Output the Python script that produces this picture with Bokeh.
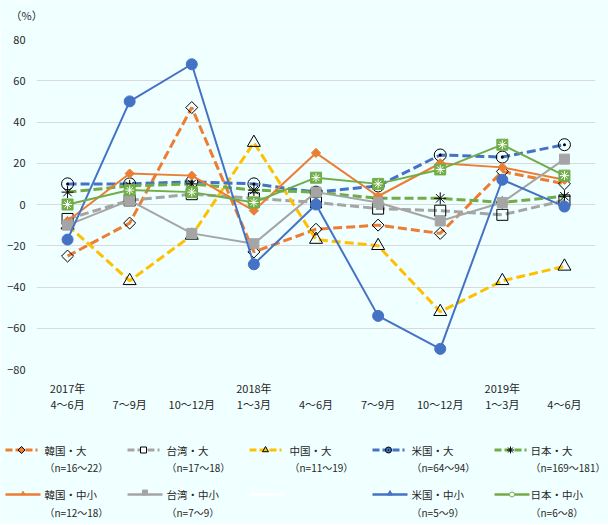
import math
from bokeh.plotting import figure
from bokeh.models import Range1d, FixedTicker
from bokeh.layouts import column
from bokeh.core.properties import value
from bokeh.embed import file_html
from bokeh.resources import INLINE

# ---------------- data ----------------
periods = ["2017年\n4～6月", "\n7～9月", "\n10～12月", "2018年\n1～3月", "\n4～6月",
           "\n7～9月", "\n10～12月", "2019年\n1～3月", "\n4～6月"]
y_ticks = [-80, -60, -40, -20, 0, 20, 40, 60, 80]
unit_label = "（%）"

korea_large = [-25, -9, 47, -23, -12, -10, -14, 16, 10]
taiwan_large = [-7, 2, 5, 3, 1, -2, -3, -5, 2]
china_large = [-10, -37, -15, 30, -17, -20, -52, -37, -30]
us_large = [10, 10, 11, 10, 6, 9, 24, 23, 29]
japan_large = [6, 9, 10, 7, 6, 3, 3, 1, 4]
korea_sme = [-8, 15, 14, -3, 25, 4, 20, 18, 12]
taiwan_sme = [-10, 2, -14, -19, 6, 1, -8, 1, 22]
us_sme = [-17, 50, 68, -29, 0, -54, -70, 12, -1]
japan_sme = [0, 7, 6, 1, 13, 10, 17, 29, 14]

legend_names = ["韓国・大", "台湾・大", "中国・大", "米国・大", "日本・大",
                "韓国・中小", "台湾・中小", "", "米国・中小", "日本・中小"]
legend_ns = ["（n=16～22）", "（n=17～18）", "（n=11～19）", "（n=64～94）", "（n=169～181）",
             "（n=12～18）", "（n=7～9）", "", "（n=5～9）", "（n=6～8）"]

# ---------------- style ----------------
BG = "#F0FFFF"
FONT = "Noto Sans CJK JP"
TXT = "#262626"
ORANGE = "#ED7D31"
GRAY = "#A5A5A5"
YELLOW = "#FFC000"
BLUE = "#4472C4"
GREEN = "#70AD47"
DASH = "9 4"
xs = list(range(len(periods)))


def no_align(f):
    try:
        f.frame_align = False
    except Exception:
        pass
    return f


def blank_panel(h):
    f = figure(width=608, height=h, x_range=Range1d(0, 608), y_range=Range1d(h, 0),
               output_backend="svg", toolbar_location=None,
               x_axis_location=None, y_axis_location=None, min_border=0,
               min_border_left=0, min_border_right=0, min_border_top=0, min_border_bottom=0,
               background_fill_color=BG, border_fill_color=BG, outline_line_color=None)
    f.grid.visible = False
    return no_align(f)


# ---------------- header with unit ----------------
HH = 25
hdr = blank_panel(HH)
hdr.text([10], [14], text=[unit_label], text_font=value(FONT), text_font_size="11px",
         text_color=TXT, text_baseline="middle", text_align="left")

# ---------------- main chart ----------------
p = figure(width=608, height=395, x_range=Range1d(-0.5, 8.5), y_range=Range1d(-80, 80),
           output_backend="svg", toolbar_location=None,
           min_border_left=36, min_border_right=13, min_border_top=14, min_border_bottom=51,
           background_fill_color=BG, border_fill_color=BG, outline_line_color=None)
no_align(p)

p.xaxis.ticker = FixedTicker(ticks=xs)
p.xaxis.major_label_overrides = {i: lab for i, lab in enumerate(periods)}
p.yaxis.ticker = FixedTicker(ticks=y_ticks)
for ax in (p.xaxis[0], p.yaxis[0]):
    ax.axis_line_color = None
    ax.major_tick_line_color = None
    ax.minor_tick_line_color = None
    ax.major_tick_out = 0
    ax.major_tick_in = 0
    ax.minor_tick_out = 0
    ax.minor_tick_in = 0
    ax.major_label_text_font = FONT
    ax.major_label_text_font_size = "11px"
    ax.major_label_text_color = TXT
p.xaxis.major_label_standoff = 10
p.xaxis.major_label_text_line_height = 1.05
p.yaxis.major_label_standoff = 11
p.xgrid.visible = False
p.ygrid.ticker = FixedTicker(ticks=y_ticks)
p.ygrid.grid_line_color = "#D9D9D9"
p.ygrid.grid_line_width = 1

# large firms (dashed)
p.line(xs, korea_large, line_color=ORANGE, line_width=3, line_dash=DASH)
p.scatter(xs, korea_large, marker="square", size=8.5, angle=math.pi / 4,
          fill_alpha=0, line_color="black", line_width=1)

p.line(xs, taiwan_large, line_color=GRAY, line_width=3, line_dash=DASH)
p.scatter(xs, taiwan_large, marker="square", size=11, fill_alpha=0,
          line_color="black", line_width=1)

p.line(xs, china_large, line_color=YELLOW, line_width=3, line_dash=DASH)
p.scatter(xs, china_large, marker="triangle", size=13, fill_alpha=0,
          line_color="black", line_width=1)

p.line(xs, us_large, line_color=BLUE, line_width=3, line_dash=DASH)
p.scatter(xs, us_large, marker="circle_dot", size=12, fill_alpha=0,
          line_color="black", line_width=1)

p.line(xs, japan_large, line_color=GREEN, line_width=3, line_dash=DASH)
p.scatter(xs, japan_large, marker="asterisk", size=12, line_color="black", line_width=1)

# SMEs (solid)
p.line(xs, korea_sme, line_color=ORANGE, line_width=2)
p.scatter(xs, korea_sme, marker="square", size=6.5, angle=math.pi / 4,
          fill_color=ORANGE, line_color=ORANGE)

p.line(xs, taiwan_sme, line_color=GRAY, line_width=2)
p.scatter(xs, taiwan_sme, marker="square", size=10, fill_color=GRAY, line_color=GRAY)

p.line(xs, us_sme, line_color=BLUE, line_width=2)
p.scatter(xs, us_sme, marker="circle", size=11, fill_color=BLUE, line_color=BLUE)

p.line(xs, japan_sme, line_color=GREEN, line_width=2)
p.scatter(xs, japan_sme, marker="square", size=11, fill_color=GREEN, line_color=GREEN)
p.scatter(xs, japan_sme, marker="asterisk", size=9, line_color="white", line_width=1)

# ---------------- legend (separate panel) ----------------
LH = 104
lf = blank_panel(LH)

colors = [ORANGE, GRAY, YELLOW, BLUE, GREEN, ORANGE, GRAY, "white", BLUE, GREEN]
col_line_x = [5, 127, 249, 372, 494]
col_text_x = [44, 166, 289, 411, 530]
row_line_y = [29.5, 74]
row_text_y = [30, 74]
row_n_y = [47, 91.5]

for k in range(10):
    r, c = divmod(k, 5)
    x0 = col_line_x[c]
    x1 = x0 + (32 if r == 0 else 35)
    xm = (x0 + x1) / 2
    y = row_line_y[r]
    if r == 0:
        lf.line([x0, x1], [y, y], line_color=colors[k], line_width=3, line_dash="7 3")
    else:
        lf.line([x0, x1], [y, y], line_color=colors[k], line_width=2.5)
    if k == 0:
        lf.scatter([xm], [y], marker="square", size=5, angle=math.pi / 4,
                   fill_color=ORANGE, line_color="black")
    elif k == 1:
        lf.scatter([xm], [y], marker="square", size=6, fill_color="white", line_color="black")
    elif k == 2:
        lf.scatter([xm], [y], marker="triangle", size=6, fill_color=YELLOW, line_color="black")
    elif k == 3:
        lf.scatter([xm], [y], marker="circle_dot", size=6, fill_color=BLUE, line_color="black")
    elif k == 4:
        lf.scatter([xm], [y], marker="asterisk", size=7, line_color="black")
    elif k == 5:
        lf.scatter([xm], [y - 1], marker="triangle", size=4, fill_color=ORANGE, line_color=ORANGE)
    elif k == 6:
        lf.scatter([xm], [y - 2], marker="square", size=5, fill_color=GRAY, line_color=GRAY)
    elif k == 8:
        lf.scatter([xm], [y - 1], marker="triangle", size=5, fill_color=BLUE, line_color=BLUE)
    elif k == 9:
        lf.scatter([xm], [y], marker="circle", size=5, fill_color="white", line_color=GREEN)
    if legend_names[k]:
        lf.text([col_text_x[c]], [row_text_y[r]], text=[legend_names[k]],
                text_font=value(FONT), text_font_size="10.5px", text_color=TXT,
                text_baseline="middle", text_align="left")
        lf.text([col_text_x[c]], [row_n_y[r]], text=[legend_ns[k]],
                text_font=value(FONT), text_font_size="10px", text_color=TXT,
                text_baseline="middle", text_align="left")

layout = column(hdr, p, lf, spacing=0)
html = file_html(layout, INLINE)
html = html.replace("<body>", '<body style="background-color:%s;">' % BG, 1)
open("out.html", "w").write(html)
